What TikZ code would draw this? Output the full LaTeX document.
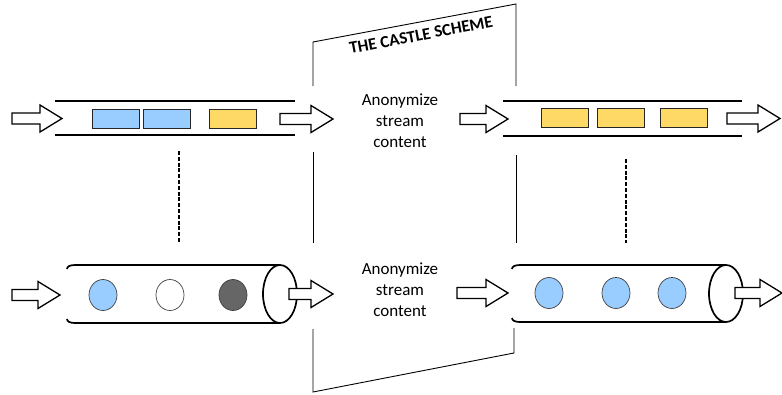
\documentclass[tikz,border=0pt]{standalone}
\usepackage{fontspec}
\setmainfont{Carlito}
\usetikzlibrary{shapes.geometric}

\definecolor{pktblue}{HTML}{99CCFF}
\definecolor{pktyellow}{HTML}{FFD966}
\definecolor{pktdark}{HTML}{666666}

% block arrow: #1 = start x, #2 = tip x, #3 = centre y
\newcommand\flowarrow[3]{%
  \draw[flow] (#1,#3-5.5) -- (#2-22,#3-5.5) -- (#2-22,#3-13.5) -- (#2,#3)
    -- (#2-22,#3+13.5) -- (#2-22,#3+5.5) -- (#1,#3+5.5) -- cycle;}

% cylinder lying on its side: #1 = left x, #2 = right x, #3 = top y,
% #4 = bottom y, #5 = half height
\newcommand\sidecan[5]{%
  \draw[pipe] (#1+8,#3) -- (#2-17,#3)
    arc[start angle=90,end angle=-90,x radius=17pt,y radius=#5pt]
    -- (#1+8,#4);
  \draw[pipe] (#2-17,#3)
    arc[start angle=90,end angle=270,x radius=17pt,y radius=#5pt];
  \draw[pipe] (#1+8,#3) .. controls (#1+3,#3) and (#1,#3+1.5) .. (#1,#3+4);
  \draw[pipe] (#1+8,#4) .. controls (#1+3,#4) and (#1,#4-1.5) .. (#1,#4-4);}

\begin{document}
\begin{tikzpicture}[x=1pt,y=-1pt,
  pipe/.style={line width=1.7pt},
  wall/.style={line width=0.9pt},
  flow/.style={draw, fill=white, line width=1.3pt, line join=miter},
  packet/.style={draw=black!85, line width=0.8pt, minimum width=47pt,
    minimum height=19pt, inner sep=0pt},
  token/.style={ellipse, draw=black!75, line width=0.7pt, minimum width=28pt,
    minimum height=31pt, inner sep=0pt},
  label/.style={align=center, font=\fontsize{17}{21}\selectfont},
  link/.style={line width=1.2pt, dash pattern=on 4pt off 1.8pt}]
\useasboundingbox (0,0) rectangle (782,394);

% the castle frame
\draw[wall] (313,86) -- (313,42) -- (516,4) -- (516,86);
\draw[wall] (313,152) -- (313,243);
\draw[wall] (516,155) -- (516,243);
\draw[wall] (514,328) -- (514,353) -- (313,392) -- (313,329);
\node[rotate=10.6, font=\bfseries\fontsize{17}{20}\selectfont] (title) at (421,35)
  {THE CASTLE SCHEME};

% upper streams: tuples in pipes
\draw[pipe] (55,101) -- (295,101);
\draw[pipe] (55,135) -- (295,135);
\node[packet, fill=pktblue] (a1) at (115.5,118.5) {};
\node[packet, fill=pktblue] (a2) at (166.5,118.5) {};
\node[packet, fill=pktyellow] (a3) at (233,118.5) {};

\draw[pipe] (503,101) -- (742,101);
\draw[pipe] (503,136) -- (742,136);
\node[packet, fill=pktyellow] (b1) at (564.5,117.5) {};
\node[packet, fill=pktyellow] (b2) at (620.5,117.5) {};
\node[packet, fill=pktyellow] (b3) at (684,117.5) {};

\flowarrow{12}{62}{118.5}
\flowarrow{280}{333}{119}
\flowarrow{460}{508}{119}
\flowarrow{727}{780}{118.5}

\node[label] (anonA) at (400,121) {Anonymize\\stream\\content};

% lower streams: tuples in cylinders
\sidecan{67}{297}{265}{323}{29}
\node[token, fill=pktblue] (c1) at (103,295) {};
\node[token, fill=white] (c2) at (170,295) {};
\node[token, fill=pktdark] (c3) at (233,295) {};

\sidecan{512}{743}{265}{322}{28.5}
\node[token, fill=pktblue] (d1) at (549,293) {};
\node[token, fill=pktblue] (d2) at (616,293) {};
\node[token, fill=pktblue] (d3) at (672,293) {};

\flowarrow{12}{60}{295}
\flowarrow{289}{333}{294}
\flowarrow{457}{508}{293}
\flowarrow{735}{782}{293}

\node[label] (anonB) at (400,290) {Anonymize\\stream\\content};

% the two views of the same stream
\coordinate (l1) at (179,151);
\coordinate (l2) at (179,243);
\coordinate (r1) at (626,159);
\coordinate (r2) at (626,243);
\draw[link] (l1) -- (l2);
\draw[link] (r1) -- (r2);
\end{tikzpicture}
\end{document}
